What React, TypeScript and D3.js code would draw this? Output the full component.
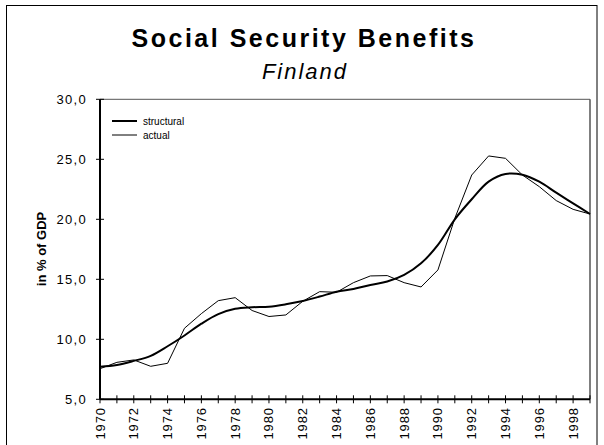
import React from "react";
import * as d3 from "d3";

const years: number[] = [
  1970, 1971, 1972, 1973, 1974, 1975, 1976, 1977, 1978, 1979,
  1980, 1981, 1982, 1983, 1984, 1985, 1986, 1987, 1988, 1989,
  1990, 1991, 1992, 1993, 1994, 1995, 1996, 1997, 1998, 1999,
];
const structural: number[] = [
  7.72, 7.86, 8.2, 8.62, 9.42, 10.32, 11.3, 12.1, 12.54, 12.67,
  12.72, 12.92, 13.19, 13.56, 13.97, 14.19, 14.53, 14.81, 15.36, 16.33,
  17.86, 20.0, 21.67, 23.14, 23.78, 23.72, 23.14, 22.22, 21.33, 20.44,
];
const actual: number[] = [
  7.55, 8.08, 8.28, 7.75, 8.0, 10.92, 12.14, 13.22, 13.47, 12.4,
  11.9, 12.03, 13.17, 13.97, 13.92, 14.72, 15.28, 15.31, 14.72, 14.36,
  15.78, 20.08, 23.69, 25.28, 25.08, 23.69, 22.72, 21.56, 20.83, 20.44,
];
const yTicks: number[] = [5, 10, 15, 20, 25, 30];
const xTickLabels: number[] = [
  1970, 1972, 1974, 1976, 1978, 1980, 1982, 1984, 1986, 1988,
  1990, 1992, 1994, 1996, 1998,
];
const titleText = "Social Security Benefits";
const subtitleText = "Finland";
const yAxisLabel = "in % of GDP";
const seriesNames: string[] = ["structural", "actual"];

const FONT = "'Liberation Sans', Arial, sans-serif";

export default function App() {
  const W = 604;
  const H = 445;
  const left = 100;
  const right = 590;
  const top = 99.3;
  const bottom = 399.3;

  const x = d3.scaleLinear().domain([1970, 1999]).range([left, right]);
  const y = d3.scaleLinear().domain([5, 30]).range([bottom, top]);

  const lineLinear = d3
    .line<number>()
    .x((_, i) => x(years[i]))
    .y((d) => y(d));
  const lineSmooth = d3
    .line<number>()
    .x((_, i) => x(years[i]))
    .y((d) => y(d))
    .curve(d3.curveCatmullRom.alpha(0.5));

  const fmt = (v: number) => v.toFixed(1).replace(".", ",");

  return (
    <svg
      width={W}
      height={H}
      style={{ position: "absolute", left: 0, top: 0, background: "#fff" }}
      fontFamily={FONT}
    >
      <rect x={0} y={0} width={W} height={H} fill="#fff" />
      <rect x={6.5} y={5.5} width={590.5} height={460} fill="none" stroke="#000" strokeWidth={1} />

      <text
        x={304}
        y={46.5}
        textAnchor="middle"
        fontSize={25}
        fontWeight="bold"
        letterSpacing={2.5}
        fill="#000"
      >
        {titleText}
      </text>
      <text
        x={305}
        y={79}
        textAnchor="middle"
        fontSize={22}
        fontStyle="italic"
        letterSpacing={2}
        fill="#000"
      >
        {subtitleText}
      </text>

      {/* plot frame top/right */}
      <line x1={left} x2={right} y1={top} y2={top} stroke="#555" strokeWidth={1} />
      <line x1={right} x2={right} y1={top} y2={bottom} stroke="#555" strokeWidth={1.5} />

      {/* y axis */}
      <line x1={left} x2={left} y1={top} y2={bottom} stroke="#000" strokeWidth={2} />
      {yTicks.map((t) => (
        <g key={t}>
          <line x1={left - 4} x2={left + 4} y1={y(t)} y2={y(t)} stroke="#000" strokeWidth={1} />
          <text
            x={87}
            y={y(t) + 4.5}
            textAnchor="end"
            fontSize={13}
            letterSpacing={1.3}
            fill="#000"
          >
            {fmt(t)}
          </text>
        </g>
      ))}
      <text
        transform={`translate(46,249) rotate(-90)`}
        textAnchor="middle"
        fontSize={13}
        fontWeight="bold"
        fill="#000"
      >
        {yAxisLabel}
      </text>

      {/* x axis */}
      <line x1={left} x2={right} y1={bottom} y2={bottom} stroke="#000" strokeWidth={2} />
      {years.map((yr) => (
        <line
          key={yr}
          x1={x(yr)}
          x2={x(yr)}
          y1={bottom - 4}
          y2={bottom + 4}
          stroke="#000"
          strokeWidth={1}
        />
      ))}
      {xTickLabels.map((yr) => (
        <text
          key={yr}
          transform={`translate(${x(yr) + 4.5},${bottom + 8}) rotate(-90)`}
          textAnchor="end"
          fontSize={13}
          letterSpacing={0.8}
          fill="#000"
        >
          {yr}
        </text>
      ))}

      {/* series */}
      <path d={lineLinear(actual) || ""} fill="none" stroke="#000" strokeWidth={1} />
      <path d={lineSmooth(structural) || ""} fill="none" stroke="#000" strokeWidth={2} />

      {/* legend */}
      <line x1={112} x2={137} y1={121} y2={121} stroke="#000" strokeWidth={2} />
      <text x={143} y={124.5} fontSize={10} fill="#000">
        {seriesNames[0]}
      </text>
      <line x1={112} x2={137} y1={135} y2={135} stroke="#000" strokeWidth={1} />
      <text x={143} y={138.5} fontSize={10} fill="#000">
        {seriesNames[1]}
      </text>
    </svg>
  );
}
